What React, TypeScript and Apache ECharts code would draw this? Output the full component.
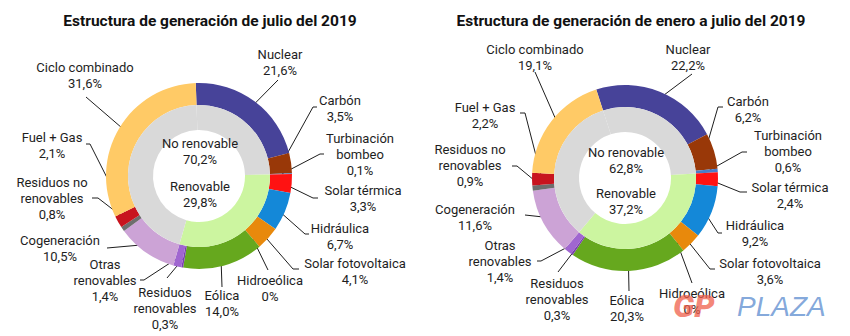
import React, { useEffect, useRef } from 'react';
import * as echarts from 'echarts';

// ---------- DATA ----------
const categories = [
  'Nuclear',
  'Carbón',
  'Turbinación\nbombeo',
  'Solar térmica',
  'Hidráulica',
  'Solar fotovoltaica',
  'Hidroeólica',
  'Eólica',
  'Residuos\nrenovables',
  'Otras\nrenovables',
  'Cogeneración',
  'Residuos no\nrenovables',
  'Fuel + Gas',
  'Ciclo combinado',
];
const isRenewable = [false, false, false, true, true, true, true, true, true, true, false, false, false, false];
const julio2019 = [21.6, 3.5, 0.1, 3.3, 6.7, 4.1, 0, 14.0, 0.3, 1.4, 10.5, 0.8, 2.1, 31.6];
const eneroJulio2019 = [22.2, 6.2, 0.6, 2.4, 9.2, 3.6, 0, 20.3, 0.3, 1.4, 11.6, 0.9, 2.2, 19.1];
const chartTitles = [
  'Estructura de generación de julio del 2019',
  'Estructura de generación de enero a julio del 2019',
];
const groupNames = ['No renovable', 'Renovable'];

// ---------- STYLE / LAYOUT ----------
const colors = [
  '#474399', '#993808', '#4A7CC8', '#FF1212', '#1488D8', '#E8890C', '#5B9BD5',
  '#66A81E', '#7B3FB0', '#A066D0', '#CCA3D6', '#6E6E6E', '#C8141E', '#FFCA66',
];
const innerColors = { 'No renovable': '#D9D9D9', Renovable: '#CCF5A0' };
const FONT = 'Roboto, "Noto Sans", sans-serif';
const TEXT = '#1e1e1e';

type LabelPos = { x: number; y: number; pts: number[][] };
type ChartLayout = {
  cx: number; cy: number; start: number; titleX: number;
  nrY: number; rY: number; labels: LabelPos[];
};

const layouts: ChartLayout[] = [
  {
    cx: 199, cy: 176, start: 92, titleX: 210, nrY: 143, rY: 186,
    labels: [
      { x: 280, y: 54, pts: [[278, 80]] },
      { x: 340, y: 100, pts: [[313, 107], [317, 107]] },
      { x: 360, y: 138, pts: [[320, 154], [324, 154]] },
      { x: 363, y: 190, pts: [[313, 198], [318, 198]] },
      { x: 340, y: 228, pts: [[305, 234], [309, 234]] },
      { x: 355, y: 263, pts: [[293, 269], [299, 269]] },
      { x: 270, y: 280, pts: [[268, 270]] },
      { x: 222, y: 295, pts: [[222, 287]] },
      { x: 165, y: 292, pts: [[167, 278]] },
      { x: 105, y: 264, pts: [[144, 280], [140, 280]] },
      { x: 60, y: 240, pts: [[107, 248]] },
      { x: 52, y: 182, pts: [[98, 198], [92, 198]] },
      { x: 52, y: 137, pts: [[90, 144], [86, 144]] },
      { x: 85, y: 67, pts: [[86, 97]] },
    ],
  },
  {
    cx: 625, cy: 178, start: 108, titleX: 631, nrY: 152, rY: 193,
    labels: [
      { x: 688, y: 49, pts: [[692, 74]] },
      { x: 748, y: 101, pts: [[718, 107], [723, 107]] },
      { x: 788, y: 135, pts: [[742, 152], [747, 152]] },
      { x: 790, y: 187, pts: [[740, 192], [747, 192]] },
      { x: 755, y: 225, pts: [[718, 233], [722, 233]] },
      { x: 770, y: 263, pts: [[710, 269], [715, 269]] },
      { x: 692, y: 293, pts: [[692, 283]] },
      { x: 627, y: 300, pts: [[629, 291]] },
      { x: 557, y: 283, pts: [[558, 272]] },
      { x: 500, y: 245, pts: [[541, 261], [537, 261]] },
      { x: 475, y: 209, pts: [[525, 215]] },
      { x: 470, y: 149, pts: [[517, 166], [512, 166]] },
      { x: 485, y: 107, pts: [[525, 113], [520, 113]] },
      { x: 535, y: 49, pts: [[535, 72]] },
    ],
  },
];

const R_OUTER = [71, 93];
const R_INNER = [46, 71];
const R_LINE = 83;

function fmt(v: number) {
  return v === 0 ? '0%' : v.toFixed(1).replace('.', ',') + '%';
}

function midAngle(values: number[], idx: number, startDeg: number) {
  const total = values.reduce((a, b) => a + b, 0);
  let cum = 0;
  for (let j = 0; j < idx; j++) cum += values[j];
  const mid = cum + values[idx] / 2;
  return ((startDeg - (mid / total) * 360) * Math.PI) / 180;
}

function innerRuns(values: number[]) {
  const out: { name: string; value: number }[] = [];
  values.forEach((v, i) => {
    const name = isRenewable[i] ? groupNames[1] : groupNames[0];
    const last = out[out.length - 1];
    if (last && last.name === name) last.value += v;
    else out.push({ name, value: v });
  });
  return out.map((d) => ({ ...d, value: Math.round(d.value * 10) / 10 }));
}

function groupTotal(values: number[], renewable: boolean) {
  const s = values.reduce((a, v, i) => (isRenewable[i] === renewable ? a + v : a), 0);
  return Math.round(s * 10) / 10;
}

function buildOption() {
  const datasets = [julio2019, eneroJulio2019];
  const series: any[] = [];
  const graphic: any[] = [];

  datasets.forEach((vals, ci) => {
    const L = layouts[ci];
    series.push({
      type: 'pie',
      center: [L.cx, L.cy],
      radius: R_OUTER,
      startAngle: L.start,
      clockwise: true,
      avoidLabelOverlap: false,
      silent: true,
      emphasis: { disabled: true },
      data: categories.map((c, i) => ({ name: c, value: vals[i], itemStyle: { color: colors[i] } })),
      label: {
        show: true,
        position: 'outside',
        formatter: (p: any) => p.name + '\n' + fmt(p.value),
        fontFamily: FONT,
        fontSize: 13,
        lineHeight: 16,
        color: TEXT,
      },
      labelLine: { show: true, length: 5, length2: 5, lineStyle: { color: TEXT, width: 1 } },
      labelLayout: (params: any) => {
        const i = params.dataIndex;
        const lp = L.labels[i];
        const a = midAngle(vals, i, L.start);
        const sx = L.cx + R_LINE * Math.cos(a);
        const sy = L.cy - R_LINE * Math.sin(a);
        return {
          x: lp.x,
          y: lp.y - 8,
          align: 'center',
          verticalAlign: 'top',
          labelLinePoints: [[sx, sy], ...lp.pts],
        };
      },
    });
    series.push({
      type: 'pie',
      center: [L.cx, L.cy],
      radius: R_INNER,
      startAngle: L.start,
      clockwise: true,
      silent: true,
      emphasis: { disabled: true },
      label: { show: false },
      labelLine: { show: false },
      data: innerRuns(vals).map((d) => ({ ...d, itemStyle: { color: (innerColors as any)[d.name] } })),
    });

    graphic.push({
      type: 'text', x: L.titleX, y: 21, z: 10,
      style: { text: chartTitles[ci], font: `bold 15.5px ${FONT}`, fill: '#111', textAlign: 'center', textVerticalAlign: 'middle' },
    });
    const centerLines = [
      [groupNames[0], L.nrY],
      [fmt(groupTotal(vals, false)), L.nrY + 16],
      [groupNames[1], L.rY],
      [fmt(groupTotal(vals, true)), L.rY + 16],
    ];
    centerLines.forEach(([t, y]) => {
      graphic.push({
        type: 'text', x: L.cx + 1, y: y as number, z: 10,
        style: { text: t as string, font: `13px ${FONT}`, fill: TEXT, textAlign: 'center', textVerticalAlign: 'middle' },
      });
    });
  });

  // watermark
  graphic.push({
    type: 'text', x: 673, y: 306, z: 20,
    style: { text: 'GP', font: `italic 900 32px ${FONT}`, fill: 'rgba(240,95,75,0.75)', textAlign: 'left', textVerticalAlign: 'middle' },
  });
  graphic.push({
    type: 'text', x: 737, y: 306, z: 20,
    style: { text: 'PLAZA', font: 'italic 400 28px "Liberation Sans", sans-serif', fill: 'rgba(100,145,210,0.8)', textAlign: 'left', textVerticalAlign: 'middle' },
  });

  return { animation: false, series, graphic };
}

export default function App() {
  const ref = useRef<HTMLDivElement>(null);
  useEffect(() => {
    document.body.style.margin = '0';
    if (!ref.current) return;
    const chart = echarts.init(ref.current, undefined, { renderer: 'svg' });
    chart.setOption(buildOption() as any);
    return () => chart.dispose();
  }, []);
  return <div ref={ref} style={{ width: 850, height: 336, background: '#fff' }} />;
}
